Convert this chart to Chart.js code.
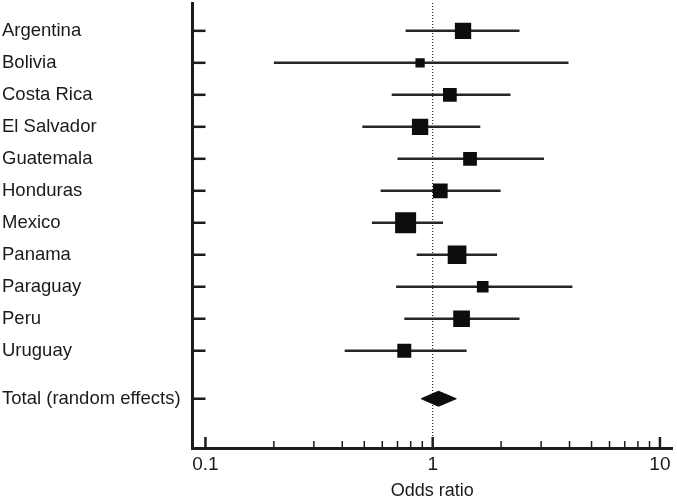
<!DOCTYPE html>
<html>
<head>
<meta charset="utf-8">
<script src="https://cdn.jsdelivr.net/npm/chart.js@4.4.0/dist/chart.umd.min.js"></script>
<style>
  html, body { margin: 0; padding: 0; background: #fff; }
  #wrap { width: 677px; height: 500px; }
</style>
</head>
<body>
<div id="wrap"><canvas id="forest" width="677" height="500"></canvas></div>
<script>
// ==================== DATOS ====================
const countries = ['Argentina', 'Bolivia', 'Costa Rica', 'El Salvador', 'Guatemala', 'Honduras',
                   'Mexico', 'Panama', 'Paraguay', 'Peru', 'Uruguay'];
const oddsRatio = [1.36, 0.88, 1.19, 0.88, 1.46, 1.08, 0.76, 1.28, 1.66, 1.34, 0.75];
const ciLower   = [0.76, 0.20, 0.66, 0.49, 0.70, 0.59, 0.54, 0.85, 0.69, 0.75, 0.41];
const ciUpper   = [2.41, 3.96, 2.20, 1.62, 3.09, 1.99, 1.11, 1.92, 4.12, 2.41, 1.41];
const weights   = [10.2, 3.3, 7.2, 10.2, 7.2, 8.3, 16.9, 13.4, 5.2, 10.7, 7.5];

const totalLabel = 'Total (random effects)';
const totalOR = 1.06;
const totalLower = 0.89;
const totalUpper = 1.27;

const xTickValues = [0.1, 0.2, 0.3, 0.4, 0.5, 0.6, 0.7, 0.8, 0.9,
                     1, 2, 3, 4, 5, 6, 7, 8, 9, 10];
const xTickLabels = [0.1, 1, 10];

// ==================== AJUSTES ====================
const INK = '#1c1c1c';
const FONT = "'Liberation Sans', Arial, sans-serif";
const Y_MIN = -0.87, Y_MAX = 13.04;
const rows = countries.map((_, i) => i);
const totalRow = countries.length + 0.5;
const yLabels = [...countries, totalLabel];
const yRows = [...rows, totalRow];

// sin relleno extra alrededor del área del gráfico
const noPadding = s => {
    s.paddingLeft = s.paddingRight = s.paddingTop = s.paddingBottom = 0;
    s.getPadding = () => ({ left: 0, top: 0, right: 0, bottom: 0 });
};

// ==================== DATASETS ====================
const squares = {
    label: 'OR',
    data: countries.map((_, i) => ({ x: oddsRatio[i], y: rows[i] })),
    pointStyle: 'rect',
    pointRadius: weights.map(w => Math.sqrt(w) * 5.11 / Math.SQRT2),
    backgroundColor: '#0d0d0d',
    borderWidth: 0,
    order: 0
};

const ciLines = countries.map((_, i) => ({
    label: 'IC ' + countries[i],
    data: [{ x: ciLower[i], y: rows[i] }, { x: ciUpper[i], y: rows[i] }],
    showLine: true,
    borderColor: '#262626',
    borderWidth: 2.5,
    pointRadius: 0,
    order: 1
}));

const diamondH = 0.235;
const diamond = {
    label: totalLabel,
    data: [
        { x: totalLower, y: totalRow },
        { x: totalOR, y: totalRow - diamondH },
        { x: totalUpper, y: totalRow },
        { x: totalOR, y: totalRow + diamondH },
        { x: totalLower, y: totalRow }
    ],
    showLine: true,
    borderColor: '#0d0d0d',
    borderWidth: 1,
    backgroundColor: '#0d0d0d',
    fill: 'shape',
    tension: 0,
    pointRadius: 0,
    order: 0
};

const refLine = {
    label: 'OR = 1',
    data: [{ x: 1, y: Y_MIN }, { x: 1, y: Y_MAX }],
    showLine: true,
    borderColor: '#000',
    borderWidth: 1,
    borderDash: [1, 2],
    pointRadius: 0,
    order: 2
};

// ==================== MARCAS DE EJES ====================
const axisTicks = {
    id: 'axisTicks',
    afterDatasetsDraw(chart) {
        const { ctx, chartArea, scales: { x, y } } = chart;
        ctx.save();
        ctx.strokeStyle = INK;
        ctx.lineWidth = 2.5;
        y.ticks.forEach(t => {
            const py = y.getPixelForValue(t.value);
            ctx.beginPath();
            ctx.moveTo(chartArea.left, py);
            ctx.lineTo(chartArea.left + 13, py);
            ctx.stroke();
        });
        x.ticks.forEach(t => {
            const px = x.getPixelForValue(t.value);
            ctx.lineWidth = t.major ? 2.5 : 1.5;
            ctx.beginPath();
            ctx.moveTo(px, chartArea.bottom);
            ctx.lineTo(px, chartArea.bottom - (t.major ? 11 : 7));
            ctx.stroke();
        });
        ctx.restore();
    }
};

// ==================== GRÁFICO ====================
new Chart(document.getElementById('forest'), {
    type: 'scatter',
    data: { datasets: [squares, diamond, ...ciLines, refLine] },
    options: {
        responsive: false,
        animation: false,
        layout: { autoPadding: false, padding: { left: 2, top: 3, right: 5, bottom: 0 } },
        plugins: { legend: { display: false }, tooltip: { enabled: false } },
        scales: {
            x: {
                type: 'logarithmic',
                min: 0.0877,
                max: 11.3,
                afterBuildTicks: s => {
                    s.ticks = xTickValues.map(v => ({ value: v, major: xTickLabels.includes(v) }));
                },
                afterFit: s => {
                    s.height = 52;
                    noPadding(s);
                },
                ticks: {
                    autoSkip: false,
                    maxRotation: 0,
                    padding: 5,
                    color: '#1a1a1a',
                    font: { family: FONT, size: 19 },
                    callback: v => xTickLabels.includes(v) ? String(v) : ''
                },
                grid: { drawOnChartArea: false, drawTicks: false },
                border: { color: INK, width: 3 },
                title: {
                    display: true,
                    text: 'Odds ratio',
                    color: '#1a1a1a',
                    font: { family: FONT, size: 18 },
                    padding: { top: 0, bottom: -1.5 }
                }
            },
            y: {
                type: 'linear',
                reverse: true,
                min: Y_MIN,
                max: Y_MAX,
                afterBuildTicks: s => {
                    s.ticks = yRows.map(v => ({ value: v }));
                },
                afterFit: s => {
                    s.width = 190.5;
                    noPadding(s);
                },
                ticks: {
                    autoSkip: false,
                    crossAlign: 'far',
                    padding: 0,
                    color: '#1a1a1a',
                    font: { family: FONT, size: 18.5 },
                    callback: (v, i) => yLabels[i]
                },
                grid: { drawOnChartArea: false, drawTicks: false },
                border: { color: INK, width: 3 }
            }
        }
    },
    plugins: [axisTicks]
});
</script>
</body>
</html>
